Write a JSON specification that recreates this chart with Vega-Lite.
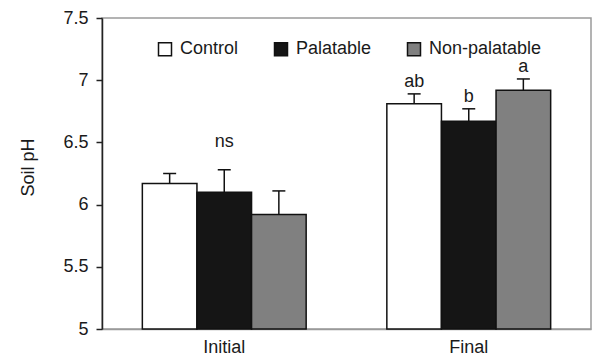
{
  "$schema": "https://vega.github.io/schema/vega-lite/v6.json",
  "width": 489,
  "height": 311,
  "autosize": "none",
  "padding": {"left": 102, "top": 18, "right": 1, "bottom": 28},
  "background": "white",
  "config": {
    "font": "Liberation Sans",
    "view": {"stroke": "#9a9a9a", "strokeWidth": 1.5},
    "axis": {"grid": false},
    "legend": {
      "orient": "none",
      "legendX": 54,
      "legendY": 22,
      "direction": "horizontal",
      "padding": 0,
      "labelFontSize": 18,
      "labelColor": "#1a1a1a",
      "labelFont": "Liberation Sans",
      "symbolType": "square",
      "symbolSize": 169,
      "symbolStrokeColor": "#111111",
      "symbolStrokeWidth": 1.5,
      "symbolOpacity": 1,
      "labelOffset": 6,
      "columnPadding": 32
    }
  },
  "datasets": {
    "bars": [
      {"phase": "Initial", "treatment": "Control", "mean": 6.17, "upper": 6.25, "sig": ""},
      {"phase": "Initial", "treatment": "Palatable", "mean": 6.10, "upper": 6.28, "sig": ""},
      {"phase": "Initial", "treatment": "Non-palatable", "mean": 5.92, "upper": 6.11, "sig": ""},
      {"phase": "Final", "treatment": "Control", "mean": 6.81, "upper": 6.89, "sig": "ab"},
      {"phase": "Final", "treatment": "Palatable", "mean": 6.67, "upper": 6.77, "sig": "b"},
      {"phase": "Final", "treatment": "Non-palatable", "mean": 6.92, "upper": 7.01, "sig": "a"}
    ],
    "notes": [
      {"phase": "Initial", "label": "ns", "y": 6.46}
    ]
  },
  "layer": [
    {
      "data": {"name": "bars"},
      "mark": {"type": "bar", "stroke": "#111111", "strokeWidth": 1.5},
      "encoding": {
        "x": {
          "field": "phase", "type": "nominal", "sort": ["Initial", "Final"],
          "scale": {"paddingInner": 0.33, "paddingOuter": 0.165},
          "axis": {"title": null, "labelAngle": 0, "ticks": false, "domainColor": "#9a9a9a", "domainWidth": 1.5, "labelFontSize": 18, "labelColor": "#1a1a1a", "labelPadding": 9}
        },
        "xOffset": {
          "field": "treatment", "type": "nominal", "sort": ["Control", "Palatable", "Non-palatable"],
          "scale": {"paddingInner": 0, "paddingOuter": 0}
        },
        "y": {
          "field": "mean", "type": "quantitative", "title": "Soil pH",
          "scale": {"domain": [5, 7.5], "nice": false, "zero": false},
          "axis": {
            "values": [5, 5.5, 6, 6.5, 7, 7.5], "format": ".1~f",
            "domainColor": "#222222", "domainWidth": 1.5,
            "tickColor": "#222222", "tickWidth": 1.5, "tickSize": 6,
            "labelFontSize": 18, "labelColor": "#1a1a1a", "labelPadding": 8,
            "titleFontSize": 18, "titleFontWeight": "normal", "titleColor": "#1a1a1a",
            "titleX": -74, "titleY": 149, "titleBaseline": "middle"
          }
        },
        "y2": {"datum": 5},
        "fill": {
          "field": "treatment", "type": "nominal",
          "scale": {"domain": ["Control", "Palatable", "Non-palatable"], "range": ["#ffffff", "#151515", "#808080"]},
          "legend": {"title": null}
        }
      }
    },
    {
      "data": {"name": "bars"},
      "mark": {"type": "rule", "color": "#111111", "strokeWidth": 1.5},
      "encoding": {
        "x": {"field": "phase", "type": "nominal", "sort": ["Initial", "Final"]},
        "xOffset": {"field": "treatment", "type": "nominal", "sort": ["Control", "Palatable", "Non-palatable"]},
        "y": {"field": "mean", "type": "quantitative", "title": "Soil pH"},
        "y2": {"field": "upper"}
      }
    },
    {
      "data": {"name": "bars"},
      "mark": {"type": "tick", "orient": "horizontal", "size": 13, "thickness": 1.5, "color": "#111111", "opacity": 1},
      "encoding": {
        "x": {"field": "phase", "type": "nominal", "sort": ["Initial", "Final"]},
        "xOffset": {"field": "treatment", "type": "nominal", "sort": ["Control", "Palatable", "Non-palatable"]},
        "y": {"field": "upper", "type": "quantitative", "title": "Soil pH"}
      }
    },
    {
      "data": {"name": "bars"},
      "mark": {"type": "text", "fontSize": 18, "baseline": "alphabetic", "dy": -7, "color": "#1a1a1a"},
      "encoding": {
        "x": {"field": "phase", "type": "nominal", "sort": ["Initial", "Final"]},
        "xOffset": {"field": "treatment", "type": "nominal", "sort": ["Control", "Palatable", "Non-palatable"]},
        "y": {"field": "upper", "type": "quantitative", "title": "Soil pH"},
        "text": {"field": "sig"}
      }
    },
    {
      "data": {"name": "notes"},
      "mark": {"type": "text", "fontSize": 18, "baseline": "alphabetic", "color": "#1a1a1a"},
      "encoding": {
        "x": {"field": "phase", "type": "nominal", "sort": ["Initial", "Final"]},
        "y": {"field": "y", "type": "quantitative", "title": "Soil pH"},
        "text": {"field": "label"}
      }
    }
  ]
}
